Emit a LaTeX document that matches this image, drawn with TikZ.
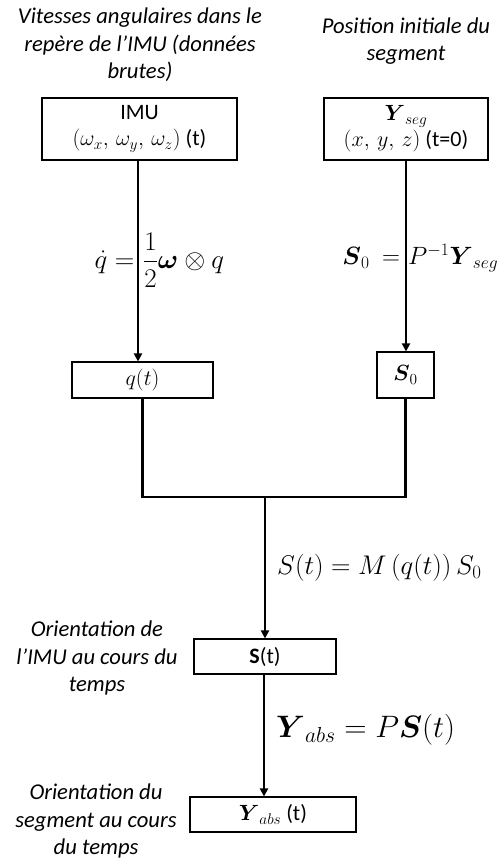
\RequirePackage{fix-cm}
\documentclass[tikz,border=0pt]{standalone}
\usepackage{amsmath}
\usepackage[no-math]{fontspec}
\setmainfont{Carlito}
\usetikzlibrary{arrows.meta}
\begin{document}
\begin{tikzpicture}[x=1pt,y=-1pt,
  box/.style={draw,line width=1.1pt,inner sep=0pt,align=center,font=\fontsize{22}{26}\selectfont},
  note/.style={align=center,font=\fontsize{22.6}{27.5}\selectfont\itshape},
  flow/.style={line width=2.8pt,line join=miter},
  arr/.style={flow,-{Triangle[length=8pt,width=8pt]}},
  eq/.style={inner sep=0pt,anchor=west}]
\useasboundingbox (0,0) rectangle (499,863);
% titles
\node[note] (tl) at (140,45) {Vitesses angulaires dans le\\repère de l’IMU (données\\brutes)};
\node[note] (tr) at (406,41) {Position initiale du\\segment};
% boxes
\node[box,minimum width=195pt,minimum height=62pt] (imu) at (139.5,129)
  {IMU\\$(\omega_x,\,\omega_y,\,\omega_z)$ (t)};
\node[box,minimum width=164pt,minimum height=62pt] (yseg) at (406,129)
  {$\boldsymbol{Y}_{seg}$\\$(x,\,y,\,z)$ (t=0)};
\node[box,minimum width=141pt,minimum height=36pt] (qt) at (142.5,380) {$q(t)$};
\node[box,minimum width=57pt,minimum height=46pt] (s0) at (405.5,375) {$\boldsymbol{S}_0$};
\node[box,minimum width=142pt,minimum height=35pt] (st) at (265,656.5) {\textbf{S}(t)};
\node[box,minimum width=166pt,minimum height=35pt] (yabs) at (273,814.5) {$\boldsymbol{Y}_{abs}$ (t)};
% side notes
\node[note] (n1) at (97,658) {Orientation de\\l’IMU au cours du\\temps};
\node[note] (n2) at (96,821) {Orientation du\\segment au cours\\du temps};
% connectors
\coordinate (join) at (265,497);
\draw[arr] (imu.south -| 138,0) -- (qt.north -| 138,0);
\draw[arr] (yseg.south) -- (yseg.south |- s0.north);
\draw[flow] (qt.south) |- (join) -| (s0.south);
\draw[arr] (join) -- (join |- st.north);
\draw[arr] (st.south -| 264,0) -- (yabs.north -| 264,0);
% equations
\node[eq,font=\fontsize{27}{32}\selectfont] (e1) at (138,260)
  {\makebox[0pt][r]{$\dot q =$\hspace{4pt}}\hspace{5pt}$\dfrac{1}{2}\boldsymbol{\omega}\otimes q$};
\node[eq,font=\fontsize{25}{30}\selectfont] (e2) at (405,258)
  {\makebox[0pt][r]{$\boldsymbol{S}_0\ =$\hspace{5pt}}\hspace{3pt}$P^{-1}\boldsymbol{Y}_{seg}$};
\node[eq,font=\fontsize{27}{32}\selectfont] (e3) at (277,568) {$S(t) = M\left(q(t)\right)S_0$};
\node[eq,font=\fontsize{31}{36}\selectfont] (e4) at (276,730) {$\boldsymbol{Y}_{abs} = P\boldsymbol{S}(t)$};
\end{tikzpicture}
\end{document}
